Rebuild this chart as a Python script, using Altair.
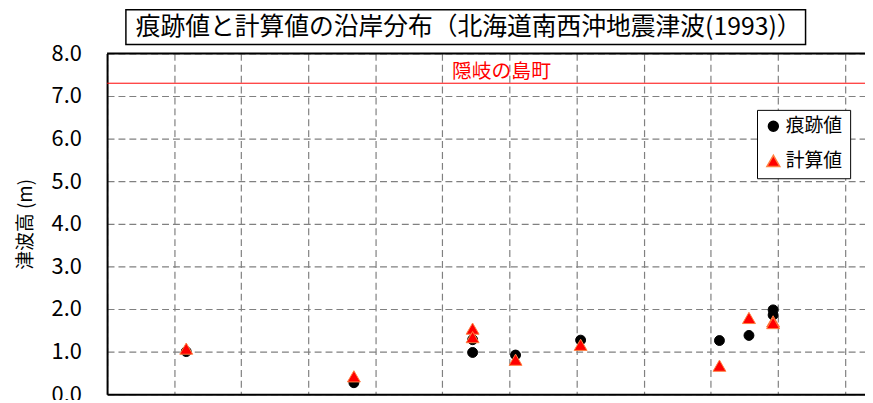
import altair as alt
import pandas as pd

# ---- data ----
series_names = ["痕跡値", "計算値"]
obs_x = [1.18, 3.68, 5.45, 5.45, 6.09, 7.06, 9.13, 9.57, 9.93, 9.93]
obs_y = [1.00, 0.27, 0.98, 1.28, 0.92, 1.27, 1.26, 1.38, 1.98, 1.86]
calc_x = [1.18, 3.68, 5.45, 5.45, 6.09, 7.06, 9.13, 9.57, 9.93, 9.93]
calc_y = [1.07, 0.42, 1.54, 1.34, 0.81, 1.16, 0.67, 1.79, 1.71, 1.67]

ref_level = [7.3]
ref_label = ["隠岐の島町"]
ref_label_x = [5.88]

y_ticks = [0, 1, 2, 3, 4, 5, 6, 7, 8]
x_grid = [0, 1, 2, 3, 4, 5, 6, 7, 8, 9, 10, 11]
x_domain = [0, 11.3]
y_domain = [0, 8]

title_text = "痕跡値と計算値の沿岸分布（北海道南西沖地震津波(1993)）"
y_title = "津波高 (m)"

JP = "Noto Sans CJK JP"
GRID = "#808080"

pts = pd.DataFrame(
    {"x": obs_x + calc_x,
     "y": obs_y + calc_y,
     "series": [series_names[0]] * len(obs_x) + [series_names[1]] * len(calc_x)}
)

xs = alt.Scale(domain=x_domain, nice=False, zero=False)
ys = alt.Scale(domain=y_domain, nice=False)

leg = alt.Legend(title=None, orient="none", legendX=656, legendY=57,
                 padding=7, strokeColor="black", fillColor="white",
                 labelFont=JP, labelFontSize=19, labelColor="black",
                 symbolSize=140, rowPadding=15, labelOffset=3)

points = alt.Chart(pts).mark_point(filled=True, opacity=1, strokeWidth=1).encode(
    x=alt.X("x:Q", scale=xs,
            axis=alt.Axis(values=x_grid, labels=False, ticks=False, title=None,
                          domainColor="black", domainWidth=2,
                          grid=True, gridColor=GRID, gridDash=[7, 4], gridWidth=1.2)),
    y=alt.Y("y:Q", scale=ys,
            axis=alt.Axis(values=y_ticks, format=".1f", ticks=False,
                          labelFont=JP, labelFontSize=22, labelColor="black",
                          labelPadding=26,
                          title=y_title, titleFont=JP, titleFontSize=19,
                          titleFontWeight="normal", titleColor="black",
                          titlePadding=16,
                          domainColor="black", domainWidth=2,
                          grid=True, gridColor=GRID, gridDash=[7, 4], gridWidth=1.2)),
    color=alt.Color("series:N",
                    scale=alt.Scale(domain=series_names, range=["black", "#ff0000"]),
                    legend=leg),
    shape=alt.Shape("series:N",
                    scale=alt.Scale(domain=series_names, range=["circle", "triangle-up"]),
                    legend=leg),
    stroke=alt.Stroke("series:N",
                      scale=alt.Scale(domain=series_names, range=["black", "#ff8040"]),
                      legend=None),
    size=alt.Size("series:N",
                  scale=alt.Scale(domain=series_names, range=[100, 170]),
                  legend=None),
)

ref_df = pd.DataFrame({"y": ref_level, "x": ref_label_x, "label": ref_label})

ref_line = alt.Chart(ref_df).mark_rule(color="#ff0000", strokeWidth=1).encode(
    y=alt.Y("y:Q", scale=ys)
)
ref_text = alt.Chart(ref_df).mark_text(
    color="#ff0000", font=JP, fontSize=20, dy=-11, baseline="middle"
).encode(x=alt.X("x:Q", scale=xs), y=alt.Y("y:Q", scale=ys), text="label:N")

top_df = pd.DataFrame({"y": [y_domain[1]]})
top_frame = alt.Chart(top_df).mark_rule(color="black", strokeWidth=2).encode(
    y=alt.Y("y:Q", scale=ys)
)

title_df = pd.DataFrame({"t": [title_text]})
title_box = alt.Chart(title_df).mark_rect(
    fill="white", stroke="black", strokeWidth=1.5
).encode(x=alt.value(19), x2=alt.value(705), y=alt.value(-44), y2=alt.value(-9))
title_mark = alt.Chart(title_df).mark_text(
    font=JP, fontSize=25, color="black", baseline="middle", align="center"
).encode(x=alt.value(365), y=alt.value(-27), text="t:N")

chart = alt.layer(
    ref_line, top_frame, points, ref_text, title_box, title_mark
).properties(
    width=765, height=344,
    autosize=alt.AutoSizeParams(type="none"),
    padding={"left": 100, "top": 44, "right": 0, "bottom": 4},
).configure_view(stroke=None).configure(background="white")

chart.save("out.html", embed_options={"renderer": "svg", "actions": False})
